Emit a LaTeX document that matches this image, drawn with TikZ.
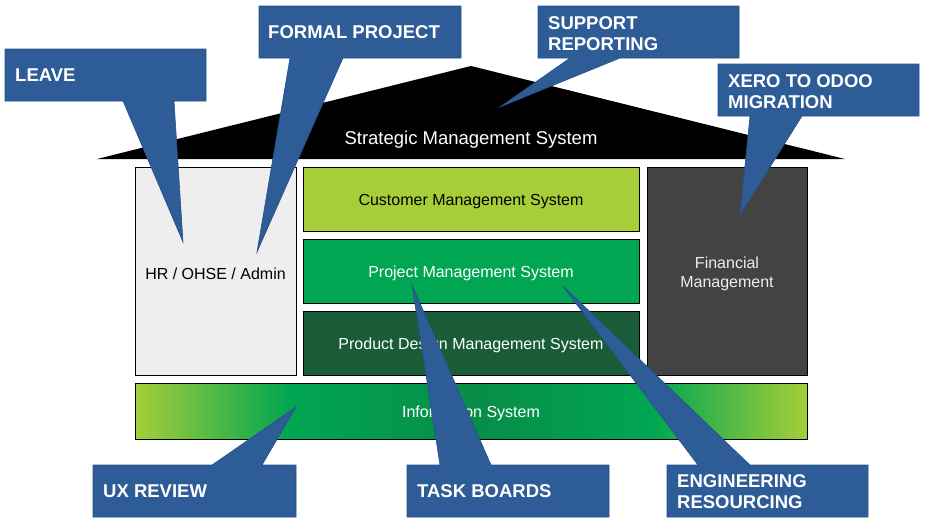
\documentclass[tikz,border=0pt]{standalone}
\usepackage{fontspec}
\setmainfont{Liberation Sans}
\definecolor{yg}{HTML}{A6CE39}
\definecolor{pgreen}{HTML}{00A651}
\definecolor{dgreen}{HTML}{1A5C38}
\definecolor{midgreen}{HTML}{078D48}
\definecolor{hrgray}{HTML}{EEEEEE}
\definecolor{fingray}{HTML}{434343}
\definecolor{cblue}{HTML}{2E5C96}
\definecolor{cblueline}{HTML}{27508A}
\pgfdeclarehorizontalshading{infoshade}{100bp}{color(0bp)=(yg); color(25bp)=(yg); color(36.5bp)=(pgreen); color(50bp)=(midgreen); color(63.5bp)=(pgreen); color(75bp)=(yg); color(100bp)=(yg)}
\tikzset{
  box/.style={draw=black, line width=1pt, inner sep=0pt},
  btext/.style={inner sep=0pt, align=center, font=\fontsize{16}{19}\selectfont},
  callout/.style={fill=cblue, draw=cblueline, line width=0.6pt, line join=miter},
  ctext/.style={anchor=west, text=white, align=left, inner sep=0pt, font=\fontsize{18.5}{21.5}\selectfont\bfseries},
}
\begin{document}
\begin{tikzpicture}[x=1pt,y=-1pt]
\useasboundingbox (0,0) rectangle (926,525);
% roof
\fill[black] (97,159) -- (471,66) -- (845,159) -- cycle;
\node[text=white, inner sep=0pt, font=\fontsize{18.5}{21}\selectfont] (sms) at (471,139.5) {Strategic Management System};
% boxes
\node[box, fill=hrgray, minimum width=161pt, minimum height=208pt] (hr) at (215.5,271) {};
\node[box, fill=yg, minimum width=336pt, minimum height=64pt] (cms) at (471,199) {};
\node[box, fill=pgreen, minimum width=336pt, minimum height=64pt] (pms) at (471,271) {};
\node[box, fill=dgreen, minimum width=336pt, minimum height=64pt] (pdms) at (471,343) {};
\node[box, fill=fingray, minimum width=160pt, minimum height=208pt] (fin) at (727,271) {};
\node[box, shading=infoshade, minimum width=672pt, minimum height=56pt] (info) at (471,411) {};
\node[btext] (hrt) at ([yshift=-2.5pt]hr.center) {HR / OHSE / Admin};
\node[btext] (cmst) at ([yshift=-2.5pt]cms.center) {Customer Management System};
\node[btext, text=white] (pmst) at ([yshift=-2.5pt]pms.center) {Project Management System};
\node[btext, text=white] (pdmst) at ([yshift=-2.5pt]pdms.center) {Product Design Management System};
\node[btext, text=hrgray] (fint) at ([yshift=-3pt]fin.center) {Financial\\Management};
\node[btext, text=white] (infot) at ([yshift=-2.5pt]info.center) {Information System};
% callouts
\draw[callout] (5,49) -- (206,49) -- (206,101) -- (174,101) -- (183,242) -- (123,101) -- (5,101) -- cycle;
\node[ctext] (leave) at (15,75.5) {LEAVE};
\draw[callout] (259,6) -- (461,6) -- (461,58) -- (343,58) -- (257,252) -- (290,58) -- (259,58) -- cycle;
\node[ctext] (formal) at (268,32.5) {FORMAL PROJECT};
\draw[callout] (538,6) -- (739,6) -- (739,58) -- (620,58) -- (500,107) -- (570,58) -- (538,58) -- cycle;
\node[ctext] (support) at (548,33.5) {SUPPORT\\REPORTING};
\draw[callout] (718,64) -- (919,64) -- (919,116) -- (802,116) -- (740,215) -- (750,116) -- (718,116) -- cycle;
\node[ctext] (xero) at (728,91.5) {XERO TO ODOO\\MIGRATION};
\draw[callout] (93,465) -- (212,465) -- (296,407) -- (262,465) -- (296,465) -- (296,517) -- (93,517) -- cycle;
\node[ctext] (ux) at (103,491.5) {UX REVIEW};
\draw[callout] (407,465) -- (440,465) -- (412,285) -- (491,465) -- (609,465) -- (609,517) -- (407,517) -- cycle;
\node[ctext] (task) at (417,491.5) {TASK BOARDS};
\draw[callout] (667,465) -- (698,465) -- (562,285) -- (750,465) -- (868,465) -- (868,517) -- (667,517) -- cycle;
\node[ctext] (eng) at (677,491.5) {ENGINEERING\\RESOURCING};
\end{tikzpicture}
\end{document}
